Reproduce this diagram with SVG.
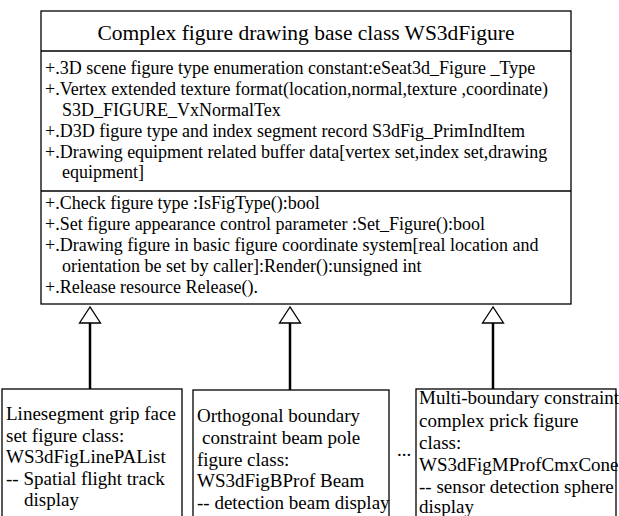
<svg xmlns="http://www.w3.org/2000/svg" width="619" height="516" viewBox="0 0 619 516">
<style>
.box{fill:#fff;stroke:#000;stroke-width:1.3}
.sep{stroke:#000;stroke-width:1.3}
text{font-family:"Liberation Serif","Times New Roman","DejaVu Serif",serif;fill:#000}
.title{font-size:21.5px}
.b{font-size:18px}
.c{font-size:19px}
.edge{stroke:#000;stroke-width:2.5;fill:none}
.tri{fill:#fff;stroke:#000;stroke-width:1.3}
</style>
<rect width="619" height="516" fill="#fff"/>
<g id="base" font-family="Liberation Serif, serif">
<rect class="box" x="41" y="11" width="530" height="293"/>
<line class="sep" x1="41" y1="51" x2="571" y2="51"/>
<line class="sep" x1="41" y1="191" x2="571" y2="191"/>
<text class="title" x="306" y="40" text-anchor="middle">Complex figure drawing base class WS3dFigure</text>
<text class="b" x="45" y="74">+.3D scene figure type enumeration constant:eSeat3d_Figure _Type</text>
<text class="b" x="45" y="95">+.Vertex extended texture format(location,normal,texture ,coordinate)</text>
<text class="b" x="62" y="115.5">S3D_FIGURE_VxNormalTex</text>
<text class="b" x="45" y="136.5">+.D3D figure type and index segment record S3dFig_PrimIndItem</text>
<text class="b" x="45" y="157.5">+.Drawing equipment related buffer data[vertex set,index set,drawing</text>
<text class="b" x="62" y="178">equipment]</text>
<text class="b" x="45" y="209">+.Check figure type :IsFigType():bool</text>
<text class="b" x="45" y="230">+.Set figure appearance control parameter :Set_Figure():bool</text>
<text class="b" x="45" y="251">+.Drawing figure in basic figure coordinate system[real location and</text>
<text class="b" x="62" y="272">orientation be set by caller]:Render():unsigned int</text>
<text class="b" x="45" y="293">+.Release resource Release().</text>
</g>
<g id="connectors">
<line class="edge" x1="90" y1="323" x2="90" y2="389"/>
<polygon class="tri" points="90,307 79.5,323 100.5,323"/>
<line class="edge" x1="290" y1="323" x2="290" y2="390"/>
<polygon class="tri" points="290,307 279.5,323 300.5,323"/>
<line class="edge" x1="493" y1="323" x2="493" y2="389"/>
<polygon class="tri" points="493,307 482.5,323 503.5,323"/>
</g>
<g id="child1">
<rect class="box" x="2" y="389" width="180" height="140"/>
<text class="c" x="6" y="420">Linesegment grip face</text>
<text class="c" x="6" y="442">set figure class:</text>
<text class="c" x="6" y="463">WS3dFigLinePAList</text>
<text class="c" x="6" y="485">-- Spatial flight track</text>
<text class="c" x="24" y="506">display</text>
</g>
<g id="child2">
<rect class="box" x="193" y="390" width="196" height="140"/>
<text class="c" x="197" y="422">Orthogonal boundary</text>
<text class="c" x="202" y="444">constraint beam pole</text>
<text class="c" x="197" y="466">figure class:</text>
<text class="c" x="197" y="487">WS3dFigBProf Beam</text>
<text class="c" x="197" y="509">-- detection beam display</text>
</g>
<g id="ellipsis">
<text class="c" x="397" y="456">...</text>
</g>
<g id="child3">
<rect class="box" x="416" y="389" width="200" height="140"/>
<text class="c" x="419" y="404">Multi-boundary constraint</text>
<text class="c" x="419" y="427">complex prick figure</text>
<text class="c" x="419" y="449">class:</text>
<text class="c" x="419" y="471">WS3dFigMProfCmxCone</text>
<text class="c" x="419" y="493">-- sensor detection sphere</text>
<text class="c" x="419" y="513">display</text>
</g>
</svg>
